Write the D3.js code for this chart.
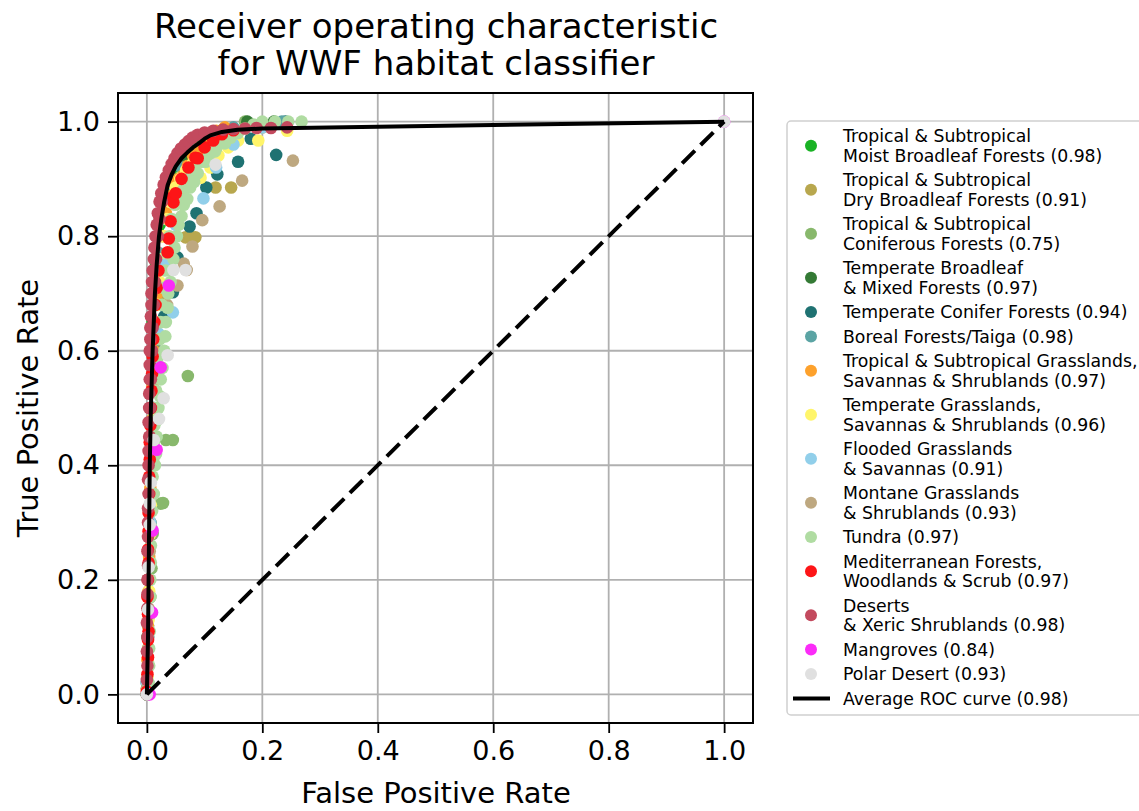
<!DOCTYPE html>
<html>
<head>
<meta charset="utf-8">
<script src="https://cdn.jsdelivr.net/npm/d3@7"></script>
<style>
  body { margin: 0; background: #fff; }
  svg { font-family: 'DejaVu Sans', sans-serif; }
</style>
</head>
<body>
<div id="chart"></div>
<script>
// ROC points per biome, [false positive rate, true positive rate]
const moistBroadleaf = [[0,0],[0.001,0.1],[0.002,0.2],[0.004,0.35],[0.006,0.5],[0.01,0.65],[0.016,0.75],[0.022,0.82],[0.03,0.87],[0.045,0.92],[0.07,0.95],[0.1,0.97],[0.14,0.985],[0.18,0.995]];
const dryBroadleaf = [[0,0.01],[0.002,0.1],[0.004,0.2],[0.006,0.3],[0.009,0.4],[0.012,0.5],[0.016,0.6],[0.025,0.7],[0.067,0.798],[0.075,0.8],[0.084,0.798],[0.119,0.885],[0.146,0.885],[0.1,0.94],[0.14,0.97],[0.2,0.99]];
const coniferous = [[0,0],[0.002,0.05],[0.004,0.11],[0.006,0.17],[0.008,0.22],[0.01,0.28],[0.024,0.333],[0.028,0.334],[0.033,0.444],[0.045,0.444],[0.071,0.556],[0.17,1.0]];
const temperateBroadleaf = [[0,0],[0.002,0.15],[0.005,0.35],[0.008,0.5],[0.012,0.65],[0.02,0.76],[0.03,0.84],[0.045,0.9],[0.065,0.94],[0.09,0.965],[0.13,0.985],[0.174,1.0],[0.22,1.0]];
const temperateConifer = [[0,0.02],[0.002,0.1],[0.004,0.2],[0.006,0.3],[0.008,0.4],[0.012,0.5],[0.018,0.6],[0.03,0.66],[0.045,0.702],[0.053,0.763],[0.074,0.817],[0.086,0.84],[0.103,0.885],[0.122,0.908],[0.158,0.93],[0.224,0.942],[0.18,0.97],[0.24,1.0]];
const boreal = [[0,0],[0.002,0.12],[0.004,0.3],[0.007,0.45],[0.01,0.58],[0.015,0.68],[0.022,0.77],[0.03,0.83],[0.042,0.88],[0.06,0.92],[0.08,0.95],[0.11,0.975],[0.15,0.99],[0.234,1.0]];
const tropGrass = [[0,0.01],[0.001,0.06],[0.002,0.12],[0.003,0.18],[0.004,0.24],[0.005,0.3],[0.006,0.36],[0.007,0.42],[0.009,0.48],[0.01,0.54],[0.012,0.6],[0.015,0.65],[0.018,0.7],[0.022,0.75],[0.027,0.8],[0.033,0.84],[0.04,0.87],[0.048,0.89],[0.055,0.9],[0.062,0.905],[0.071,0.923],[0.08,0.94],[0.09,0.952],[0.1,0.962],[0.11,0.972],[0.12,0.984],[0.135,0.99]];
const tempGrass = [[0.001,0.03],[0.002,0.08],[0.003,0.13],[0.004,0.18],[0.005,0.23],[0.006,0.28],[0.007,0.33],[0.008,0.38],[0.009,0.43],[0.011,0.48],[0.012,0.53],[0.014,0.58],[0.016,0.63],[0.019,0.68],[0.022,0.72],[0.026,0.76],[0.03,0.8],[0.035,0.83],[0.041,0.86],[0.05,0.885],[0.058,0.9],[0.068,0.915],[0.08,0.928],[0.093,0.902],[0.11,0.92],[0.124,0.941],[0.141,0.955],[0.158,0.967],[0.193,0.967],[0.243,0.984]];
const flooded = [[0,0.02],[0.002,0.1],[0.004,0.2],[0.006,0.3],[0.008,0.4],[0.011,0.5],[0.015,0.58],[0.02,0.63],[0.045,0.667],[0.03,0.75],[0.05,0.82],[0.098,0.866],[0.12,0.92],[0.15,0.96],[0.2,0.99]];
const montane = [[0,0.01],[0.002,0.08],[0.003,0.15],[0.005,0.25],[0.007,0.35],[0.009,0.45],[0.012,0.55],[0.02,0.62],[0.035,0.68],[0.053,0.714],[0.064,0.752],[0.069,0.741],[0.079,0.782],[0.096,0.828],[0.126,0.852],[0.165,0.897],[0.253,0.932]];
const tundra = [[0.003,0.02],[0.004,0.05],[0.004,0.08],[0.005,0.11],[0.005,0.14],[0.006,0.17],[0.006,0.2],[0.007,0.23],[0.007,0.26],[0.008,0.29],[0.009,0.32],[0.009,0.35],[0.01,0.38],[0.011,0.41],[0.012,0.44],[0.013,0.47],[0.015,0.5],[0.016,0.53],[0.018,0.56],[0.02,0.59],[0.022,0.62],[0.024,0.65],[0.026,0.68],[0.029,0.71],[0.032,0.74],[0.035,0.77],[0.039,0.8],[0.043,0.83],[0.049,0.855],[0.055,0.87],[0.062,0.88],[0.072,0.9],[0.083,0.915],[0.095,0.93],[0.108,0.942],[0.12,0.953],[0.132,0.963],[0.145,0.972],[0.158,0.98],[0.17,0.988],[0.185,0.995],[0.2,1.0],[0.222,1.0],[0.245,1.0],[0.268,1.0],
  [0.012,0.35],[0.014,0.4],[0.017,0.45],[0.02,0.5],[0.024,0.55],[0.03,0.6],[0.033,0.65],[0.037,0.7],[0.042,0.74],[0.048,0.78],[0.055,0.82],[0.064,0.855],[0.075,0.885],[0.088,0.91],[0.102,0.93],[0.118,0.948],[0.135,0.962],
  [0.016,0.42],[0.019,0.48],[0.023,0.52],[0.027,0.57],[0.032,0.625],[0.036,0.675],[0.041,0.72],[0.046,0.76],[0.052,0.8],[0.06,0.835],[0.07,0.865],[0.082,0.895]];
const mediterranean = [[0,0.005],[0.001,0.035],[0.002,0.065],[0.002,0.095],[0.003,0.11],[0.002,0.14],[0.001,0.17],[0.002,0.2],[0.003,0.23],[0.002,0.253],[0.003,0.285],[0.003,0.317],[0.004,0.35],[0.004,0.38],[0.005,0.41],[0.005,0.44],[0.006,0.47],[0.007,0.5],[0.008,0.53],[0.009,0.56],[0.01,0.59],[0.011,0.62],[0.013,0.65],[0.015,0.68],[0.017,0.71],[0.02,0.74],[0.036,0.772],[0.038,0.796],[0.041,0.826],[0.041,0.866],[0.046,0.859],[0.05,0.875],[0.06,0.9],[0.072,0.92],[0.084,0.937],[0.088,0.936],[0.1,0.955],[0.115,0.967],[0.13,0.978],[0.15,0.985]];
const deserts = [[0,0],[0,0.025],[0.001,0.05],[0,0.075],[0.001,0.1],[0,0.125],[0.001,0.15],[0.001,0.175],[0.001,0.2],[0.002,0.225],[0.001,0.25],[0.002,0.275],[0.002,0.3],[0.002,0.325],[0.003,0.35],[0.002,0.375],[0.003,0.4],[0.003,0.425],[0.004,0.45],[0.003,0.475],[0.004,0.5],[0.004,0.525],[0.005,0.55],[0.005,0.575],[0.005,0.6],[0.006,0.62],[0.006,0.64],[0.007,0.66],[0.008,0.68],[0.008,0.7],[0.009,0.72],[0.01,0.74],[0.012,0.76],[0.013,0.78],[0.015,0.8],[0.017,0.82],[0.019,0.84],[0.022,0.86],[0.025,0.875],[0.029,0.89],[0.033,0.903],[0.038,0.915],[0.043,0.926],[0.048,0.936],[0.053,0.945],[0.059,0.953],[0.066,0.96],[0.072,0.966],[0.079,0.972],[0.088,0.977],[0.1,0.981],[0.115,0.984],[0.132,0.986],[0.15,0.987],[0.17,0.988],[0.19,0.989],[0.215,0.989],[0.243,0.99],
  [0.005,0.45],[0.006,0.5],[0.007,0.55],[0.009,0.6],[0.01,0.64],[0.012,0.68],[0.014,0.72],[0.016,0.76],[0.019,0.8],[0.022,0.83],[0.026,0.86]];
const mangroves = [[0.005,0],[0.009,0.143],[0.01,0.286],[0.017,0.427],[0.024,0.571],[0.038,0.714],[1,1]];
const polarDesert = [[0,0],[0.002,0.148],[0.003,0.222],[0.005,0.296],[0.005,0.333],[0.007,0.37],[0.012,0.444],[0.021,0.481],[0.029,0.517],[0.036,0.592],[0.046,0.741],[0.067,0.741],[0.119,0.925],[1,1]];

// average curve and chance line
const averageRoc = [[0,0],[0.002,0.1],[0.003,0.2],[0.004,0.3],[0.005,0.4],[0.007,0.5],[0.01,0.6],[0.014,0.7],[0.017,0.75],[0.021,0.8],[0.025,0.83],[0.03,0.86],[0.036,0.889],[0.043,0.908],[0.05,0.922],[0.06,0.936],[0.07,0.946],[0.08,0.955],[0.09,0.962],[0.1,0.97],[0.11,0.976],[0.13,0.982],[0.157,0.986],[0.2,0.988],[1,1]];
const chanceLine = [[0,0],[1,1]];

const seriesData = [moistBroadleaf, dryBroadleaf, coniferous, temperateBroadleaf, temperateConifer, boreal, tropGrass, tempGrass, flooded, montane, tundra, mediterranean, deserts, mangroves, polarDesert];
const seriesColors = ['#19b224', '#b8a74e', '#88b86c', '#347a35', '#1f7272', '#5ba4a4', '#fda12c', '#fff56a', '#91cfea', '#bea880', '#b0dca2', '#fd1517', '#c34a5e', '#fb2cf8', '#e0e0e0'];
const seriesLabels = [
  ['Tropical & Subtropical', 'Moist Broadleaf Forests (0.98)'],
  ['Tropical & Subtropical', 'Dry Broadleaf Forests (0.91)'],
  ['Tropical & Subtropical', 'Coniferous Forests (0.75)'],
  ['Temperate Broadleaf', '& Mixed Forests (0.97)'],
  ['Temperate Conifer Forests (0.94)'],
  ['Boreal Forests/Taiga (0.98)'],
  ['Tropical & Subtropical Grasslands,', 'Savannas & Shrublands (0.97)'],
  ['Temperate Grasslands,', 'Savannas & Shrublands (0.96)'],
  ['Flooded Grasslands', '& Savannas (0.91)'],
  ['Montane Grasslands', '& Shrublands (0.93)'],
  ['Tundra (0.97)'],
  ['Mediterranean Forests,', 'Woodlands & Scrub (0.97)'],
  ['Deserts', '& Xeric Shrublands (0.98)'],
  ['Mangroves (0.84)'],
  ['Polar Desert (0.93)']
];
const averageLabel = 'Average ROC curve (0.98)';
const tickValues = [0, 0.2, 0.4, 0.6, 0.8, 1.0];

const width = 1139, height = 811;
const plot = { left: 118, right: 753, top: 93, bottom: 723 };

const svg = d3.select('#chart').append('svg')
  .attr('width', width)
  .attr('height', height);

const x = d3.scaleLinear().domain([-0.05, 1.05]).range([plot.left, plot.right]);
const y = d3.scaleLinear().domain([-0.05, 1.05]).range([plot.bottom, plot.top]);

// grid
const grid = svg.append('g');
grid.selectAll('line.gx').data(tickValues).enter().append('line')
  .attr('x1', d => x(d)).attr('x2', d => x(d))
  .attr('y1', plot.top).attr('y2', plot.bottom)
  .attr('stroke', '#b0b0b0').attr('stroke-width', 1.8);
grid.selectAll('line.gy').data(tickValues).enter().append('line')
  .attr('y1', d => y(d)).attr('y2', d => y(d))
  .attr('x1', plot.left).attr('x2', plot.right)
  .attr('stroke', '#b0b0b0').attr('stroke-width', 1.8);

// scatter points, one series after the other
const dots = svg.append('g');
seriesData.forEach((pts, i) => {
  dots.append('g').selectAll('circle').data(pts).enter().append('circle')
    .attr('cx', d => x(d[0]))
    .attr('cy', d => y(d[1]))
    .attr('r', 6.3)
    .attr('fill', seriesColors[i]);
});

const line = d3.line().x(d => x(d[0])).y(d => y(d[1]));

svg.append('path')
  .datum(chanceLine)
  .attr('d', line)
  .attr('fill', 'none')
  .attr('stroke', '#000')
  .attr('stroke-width', 4)
  .attr('stroke-dasharray', '18,8');

svg.append('path')
  .datum(averageRoc)
  .attr('d', line)
  .attr('fill', 'none')
  .attr('stroke', '#000')
  .attr('stroke-width', 4)
  .attr('stroke-linejoin', 'round');

// axes
const xAxis = svg.append('g')
  .attr('transform', `translate(0,${plot.bottom})`)
  .call(d3.axisBottom(x).tickValues(tickValues).tickFormat(d3.format('.1f')).tickSize(10).tickPadding(8));
const yAxis = svg.append('g')
  .attr('transform', `translate(${plot.left},0)`)
  .call(d3.axisLeft(y).tickValues(tickValues).tickFormat(d3.format('.1f')).tickSize(10).tickPadding(8));
[xAxis, yAxis].forEach(ax => {
  ax.select('.domain').remove();
  ax.selectAll('line').attr('stroke', '#000').attr('stroke-width', 1.8);
  ax.selectAll('text').style('font-family', "'DejaVu Sans', sans-serif").style('font-size', '27px').attr('fill', '#000');
});

// frame
svg.append('rect')
  .attr('x', plot.left).attr('y', plot.top)
  .attr('width', plot.right - plot.left).attr('height', plot.bottom - plot.top)
  .attr('fill', 'none').attr('stroke', '#000').attr('stroke-width', 2);

// titles
svg.append('text').attr('x', 436).attr('y', 38).attr('text-anchor', 'middle')
  .style('font-size', '34px').text('Receiver operating characteristic');
svg.append('text').attr('x', 436).attr('y', 75).attr('text-anchor', 'middle')
  .style('font-size', '34px').text('for WWF habitat classifier');
svg.append('text').attr('x', 436).attr('y', 803).attr('text-anchor', 'middle')
  .style('font-size', '29px').text('False Positive Rate');
svg.append('text').attr('transform', 'translate(38,408) rotate(-90)').attr('text-anchor', 'middle')
  .style('font-size', '29px').text('True Positive Rate');

// legend
const legend = svg.append('g');
legend.append('rect')
  .attr('x', 787).attr('y', 121).attr('width', 370).attr('height', 594)
  .attr('rx', 4)
  .attr('fill', '#fff').attr('stroke', '#d0d0d0').attr('stroke-width', 1.5);

const lineGap = 19.5;
let cursor = 136;
seriesLabels.forEach((lines, i) => {
  const mid = cursor + (lines.length - 1) * lineGap / 2;
  legend.append('circle').attr('cx', 811).attr('cy', mid).attr('r', 6).attr('fill', seriesColors[i]);
  lines.forEach((t, j) => {
    legend.append('text').attr('x', 843).attr('y', cursor + j * lineGap)
      .attr('dy', '0.35em').style('font-size', '17.3px').attr('fill', '#000').text(t);
  });
  cursor += lines.length * lineGap + 5;
});
legend.append('line').attr('x1', 793).attr('x2', 830).attr('y1', cursor).attr('y2', cursor)
  .attr('stroke', '#000').attr('stroke-width', 4);
legend.append('text').attr('x', 843).attr('y', cursor).attr('dy', '0.35em')
  .style('font-size', '17.3px').text(averageLabel);
</script>
</body>
</html>
